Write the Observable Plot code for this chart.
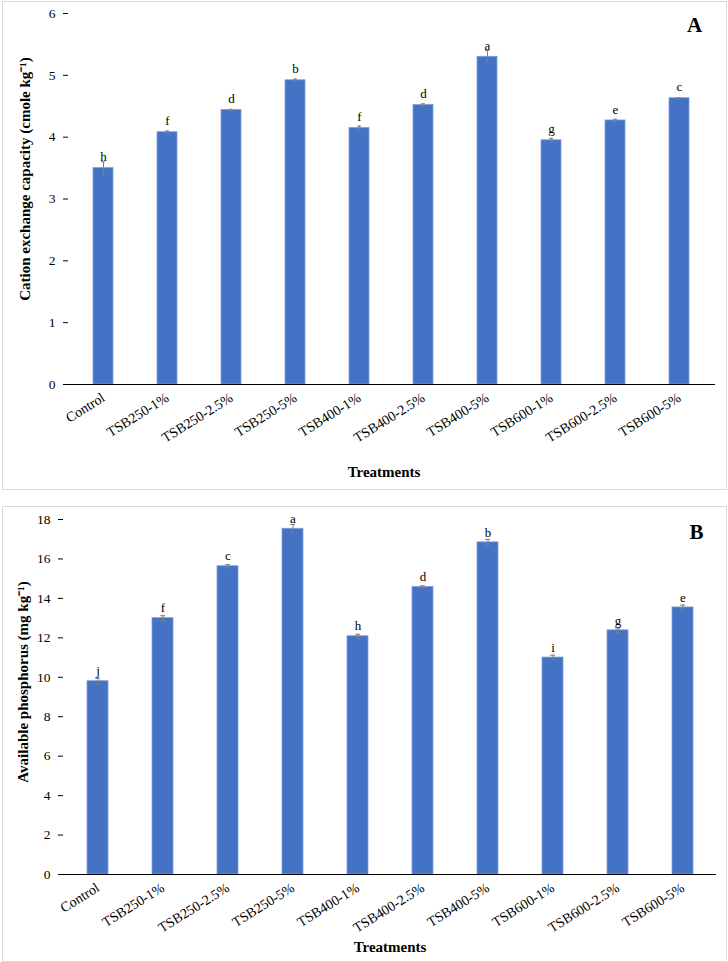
<!DOCTYPE html>
<html>
<head>
<meta charset="utf-8">
<script src="https://cdn.jsdelivr.net/npm/d3@7"></script>
<script src="https://cdn.jsdelivr.net/npm/@observablehq/plot@0.6"></script>
<style>
  body { margin: 0; background: #fff; font-family: "Liberation Serif", serif; }
  .panel { position: absolute; left: 2px; border: 1px solid #d9d9d9; background: #fff; }
  .panel svg { display: block; }
  .panel svg, .panel svg text { font-family: "Liberation Serif", "Times New Roman", serif !important; }
</style>
</head>
<body>
<div id="panelA" class="panel" style="top:1px;width:723px;height:487px"></div>
<div id="panelB" class="panel" style="top:506px;width:723px;height:454px"></div>
<script>
// Treatments (biochar pyrolysis temperature – application rate)
const treatments = ["Control", "TSB250-1%", "TSB250-2.5%", "TSB250-5%", "TSB400-1%",
  "TSB400-2.5%", "TSB400-5%", "TSB600-1%", "TSB600-2.5%", "TSB600-5%"];

// Cation exchange capacity (cmole kg-1), standard errors and significance groups
const cec = [3.50, 4.08, 4.44, 4.92, 4.15, 4.52, 5.30, 3.95, 4.27, 4.63];
const cecSE = [0.10, 0.02, 0.01, 0.02, 0.03, 0.02, 0.10, 0.03, 0.02, 0.01];
const cecGroups = ["h", "f", "d", "b", "f", "d", "a", "g", "e", "c"];
const cecTicks = [0, 1, 2, 3, 4, 5, 6];

// Available phosphorus (mg kg-1), standard errors and significance groups
const phosphorus = [9.80, 13.00, 15.63, 17.53, 12.08, 14.58, 16.84, 11.00, 12.38, 13.54];
const phosphorusSE = [0.15, 0.12, 0.08, 0.22, 0.10, 0.06, 0.15, 0.12, 0.12, 0.12];
const phosphorusGroups = ["j", "f", "c", "a", "h", "d", "b", "i", "g", "e"];
const phosphorusTicks = [0, 2, 4, 6, 8, 10, 12, 14, 16, 18];

const serif = "'Liberation Serif', 'Times New Roman', serif";

function barPanel({values, se, groups, ticks, yLabel, tag, height, margins, labelDx, labelDy, letterDy, xLabelDy, xLabelX, tagDx, tagDy}) {
  const rows = treatments.map((t, i) => ({t, v: values[i], se: se[i], g: groups[i]}));
  return Plot.plot({
    width: 723,
    height,
    ...margins,
    style: {fontFamily: serif, fontSize: "13px", color: "#000", background: "#fff", overflow: "visible"},
    x: {domain: treatments, paddingInner: 0.68, paddingOuter: 0.34, label: null},
    y: {domain: [ticks[0], ticks[ticks.length - 1]], label: null},
    marks: [
      Plot.barY(rows, {x: "t", y: "v", fill: "#4472c4", stroke: "#7f9fdc", strokeWidth: 0.8}),
      Plot.ruleX(rows, {x: "t", y1: d => d.v - d.se, y2: d => d.v + d.se, stroke: "#7f7f7f", strokeWidth: 1}),
      Plot.tickY(rows, {x: "t", y: d => d.v + d.se, stroke: "#7f7f7f", insetLeft: 8, insetRight: 8}),
      Plot.tickY(rows, {x: "t", y: d => d.v - d.se, stroke: "#7f7f7f", insetLeft: 8, insetRight: 8}),
      Plot.text(rows, {x: "t", y: "v", text: "g", dy: letterDy, fontSize: 13, lineAnchor: "middle", fill: "#000"}),
      Plot.ruleY([0], {stroke: "#000", strokeWidth: 1.2}),
      Plot.axisY({ticks, tickFormat: "d", tickSize: 5, tickPadding: 8, line: true, label: null, fontSize: 13.5}),
      Plot.axisX({tickSize: 0, tickRotate: -32, tickPadding: 12, label: null, fontSize: 14}),
      Plot.text([yLabel], {frameAnchor: "left", rotate: -90, dx: labelDx, dy: labelDy, textAnchor: "middle", lineAnchor: "middle", fontWeight: "bold", fontSize: 15, fill: "#000"}),
      Plot.text(["Treatments"], {frameAnchor: "bottom", dx: xLabelX, dy: xLabelDy, textAnchor: "middle", fontWeight: "bold", fontSize: 15, lineAnchor: "middle", fill: "#000"}),
      Plot.text([tag], {frameAnchor: "top-right", dx: tagDx, dy: tagDy, fontWeight: "bold", fontSize: 21, textAnchor: "middle", lineAnchor: "middle", fill: "#000"})
    ]
  });
}

document.getElementById("panelA").append(barPanel({
  values: cec, se: cecSE, groups: cecGroups, ticks: cecTicks,
  yLabel: "Cation exchange capacity (cmole kg⁻¹)", tag: "A",
  height: 487,
  margins: {marginLeft: 65, marginRight: 11, marginTop: 11, marginBottom: 105},
  labelDx: -43, labelDy: -20, letterDy: -11, xLabelDy: 88, xLabelX: -8, tagDx: -21, tagDy: 12
}));

document.getElementById("panelB").append(barPanel({
  values: phosphorus, se: phosphorusSE, groups: phosphorusGroups, ticks: phosphorusTicks,
  yLabel: "Available phosphorus (mg kg⁻¹)", tag: "B",
  height: 454,
  margins: {marginLeft: 60, marginRight: 10, marginTop: 12, marginBottom: 87},
  labelDx: -40, labelDy: -15, letterDy: -10, xLabelDy: 73, xLabelX: 0, tagDx: -20, tagDy: 13
}));
</script>
</body>
</html>
